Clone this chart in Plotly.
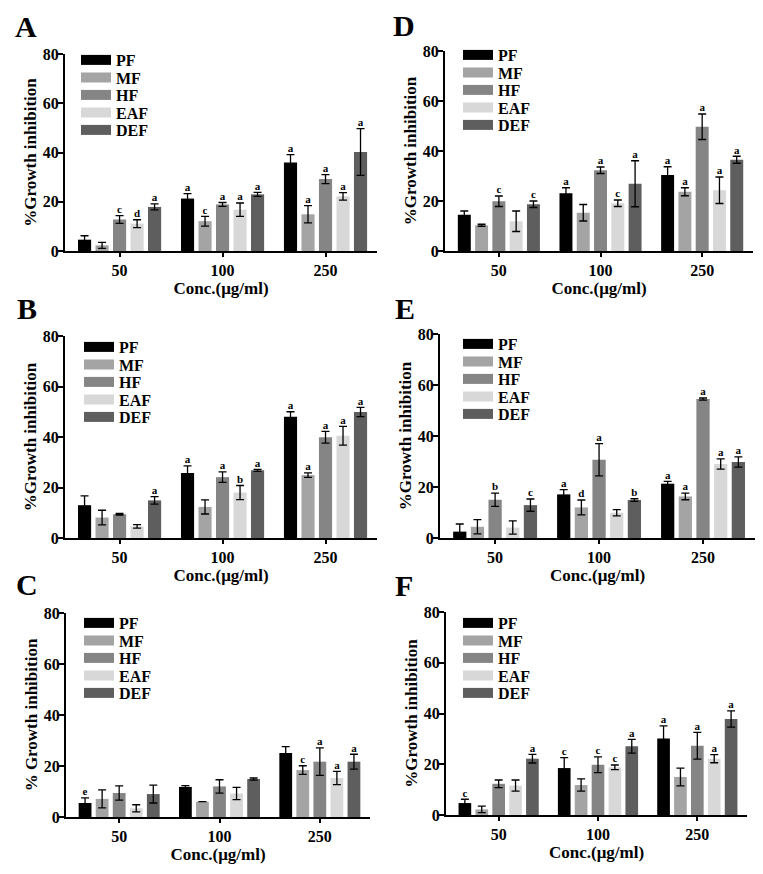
import plotly.graph_objects as go

# ---------------- data ----------------
concentrations = ["50", "100", "250"]
series_names = ["PF", "MF", "HF", "EAF", "DEF"]
series_colors = ["#000000", "#a4a4a4", "#858585", "#d8d8d8", "#5e5e5e"]

# Panel A
A_PF = [4.6, 21.3, 35.9];   A_PF_err = [1.6, 2.0, 3.2];   A_PF_let = ["", "a", "a"]
A_MF = [2.3, 12.1, 14.9];   A_MF_err = [1.2, 2.0, 3.5];   A_MF_let = ["", "c", "a"]
A_HF = [12.8, 18.9, 29.2];  A_HF_err = [1.6, 0.8, 1.8];   A_HF_let = ["c", "a", "a"]
A_EAF = [11.1, 16.8, 22.2]; A_EAF_err = [1.6, 2.7, 1.5];  A_EAF_let = ["d", "a", "a"]
A_DEF = [17.9, 23.0, 40.2]; A_DEF_err = [1.2, 0.8, 9.5];  A_DEF_let = ["a", "a", "a"]

# Panel B
B_PF = [13.0, 25.7, 48.0];  B_PF_err = [3.7, 2.9, 2.0];   B_PF_let = ["", "a", "a"]
B_MF = [8.1, 12.3, 24.9];   B_MF_err = [2.9, 2.8, 0.9];   B_MF_let = ["", "", "a"]
B_HF = [9.4, 24.1, 39.9];   B_HF_err = [0.3, 2.1, 2.3];   B_HF_let = ["", "a", "a"]
B_EAF = [4.6, 18.0, 40.5];  B_EAF_err = [0.7, 2.8, 3.7];  B_EAF_let = ["", "b", "a"]
B_DEF = [14.9, 26.8, 49.9]; B_DEF_err = [1.5, 0.4, 1.8];  B_DEF_let = ["a", "a", "a"]

# Panel C
C_PF = [5.5, 11.8, 25.1];   C_PF_err = [2.0, 0.5, 2.5];   C_PF_let = ["e", "", ""]
C_MF = [7.1, 6.0, 18.4];    C_MF_err = [3.5, 0.0, 1.7];   C_MF_let = ["", "", "c"]
C_HF = [9.4, 12.0, 21.7];   C_HF_err = [2.8, 2.6, 5.4];   C_HF_let = ["", "", "a"]
C_EAF = [3.4, 9.2, 15.3];   C_EAF_err = [1.4, 2.4, 2.6];  C_EAF_let = ["", "", "a"]
C_DEF = [9.0, 14.9, 21.7];  C_DEF_err = [3.5, 0.4, 2.9];  C_DEF_let = ["", "", "a"]

# Panel D
D_PF = [14.5, 23.1, 30.4];  D_PF_err = [1.5, 2.2, 3.3];   D_PF_let = ["", "a", "a"]
D_MF = [10.3, 15.3, 23.7];  D_MF_err = [0.4, 3.3, 1.6];   D_MF_let = ["", "", "a"]
D_HF = [19.9, 32.3, 49.7];  D_HF_err = [2.1, 1.3, 5.1];   D_HF_let = ["c", "a", "a"]
D_EAF = [11.9, 19.1, 24.3]; D_EAF_err = [4.1, 1.3, 5.3];  D_EAF_let = ["", "c", "a"]
D_DEF = [18.7, 26.9, 36.5]; D_DEF_err = [1.3, 9.2, 1.4];  D_DEF_let = ["c", "a", "a"]

# Panel E
E_PF = [2.5, 17.1, 21.3];   E_PF_err = [3.0, 1.9, 0.9];   E_PF_let = ["", "a", "a"]
E_MF = [4.4, 12.0, 16.3];   E_MF_err = [2.8, 2.9, 1.3];   E_MF_let = ["", "d", "a"]
E_HF = [15.0, 30.7, 54.5];  E_HF_err = [2.6, 6.3, 0.4];   E_HF_let = ["b", "a", "a"]
E_EAF = [4.1, 9.9, 29.0];   E_EAF_err = [2.6, 1.2, 2.0];  E_EAF_let = ["", "", "a"]
E_DEF = [12.9, 14.9, 29.8]; E_DEF_err = [2.4, 0.5, 2.0];  E_DEF_let = ["c", "b", "a"]

# Panel F
F_PF = [4.7, 18.5, 30.1];   F_PF_err = [1.5, 4.1, 5.0];   F_PF_let = ["c", "c", "a"]
F_MF = [2.2, 11.8, 15.0];   F_MF_err = [1.3, 2.4, 3.5];   F_MF_let = ["", "", ""]
F_HF = [12.3, 19.8, 27.3];  F_HF_err = [1.5, 3.1, 5.3];   F_HF_let = ["", "c", "a"]
F_EAF = [11.6, 18.8, 22.2]; F_EAF_err = [2.2, 0.9, 1.6];  F_EAF_let = ["", "c", "a"]
F_DEF = [22.2, 27.1, 37.8]; F_DEF_err = [1.7, 2.7, 3.2];  F_DEF_let = ["a", "a", "a"]

y_ticks = [0, 20, 40, 60, 80]
x_title = "Conc.(\u03bcg/ml)"

panels = [
    dict(name="A", ytitle="%Growth inhibition",
         vals=[A_PF, A_MF, A_HF, A_EAF, A_DEF],
         errs=[A_PF_err, A_MF_err, A_HF_err, A_EAF_err, A_DEF_err],
         lets=[A_PF_let, A_MF_let, A_HF_let, A_EAF_let, A_DEF_let]),
    dict(name="B", ytitle="%Growth inhibition",
         vals=[B_PF, B_MF, B_HF, B_EAF, B_DEF],
         errs=[B_PF_err, B_MF_err, B_HF_err, B_EAF_err, B_DEF_err],
         lets=[B_PF_let, B_MF_let, B_HF_let, B_EAF_let, B_DEF_let]),
    dict(name="C", ytitle="% Growth inhibition",
         vals=[C_PF, C_MF, C_HF, C_EAF, C_DEF],
         errs=[C_PF_err, C_MF_err, C_HF_err, C_EAF_err, C_DEF_err],
         lets=[C_PF_let, C_MF_let, C_HF_let, C_EAF_let, C_DEF_let]),
    dict(name="D", ytitle="%Growth inhibition",
         vals=[D_PF, D_MF, D_HF, D_EAF, D_DEF],
         errs=[D_PF_err, D_MF_err, D_HF_err, D_EAF_err, D_DEF_err],
         lets=[D_PF_let, D_MF_let, D_HF_let, D_EAF_let, D_DEF_let]),
    dict(name="E", ytitle="%Growth inhibition",
         vals=[E_PF, E_MF, E_HF, E_EAF, E_DEF],
         errs=[E_PF_err, E_MF_err, E_HF_err, E_EAF_err, E_DEF_err],
         lets=[E_PF_let, E_MF_let, E_HF_let, E_EAF_let, E_DEF_let]),
    dict(name="F", ytitle="%Growth inhibition",
         vals=[F_PF, F_MF, F_HF, F_EAF, F_DEF],
         errs=[F_PF_err, F_MF_err, F_HF_err, F_EAF_err, F_DEF_err],
         lets=[F_PF_let, F_MF_let, F_HF_let, F_EAF_let, F_DEF_let]),
]

# ---------------- layout geometry (screen pixels) ----------------
PAGE_W, PAGE_H = 763, 874
BODY = 8                      # default body margin of the html page
W, H = PAGE_W - BODY, PAGE_H - BODY


def px(xp):
    return (xp - BODY) / W


def py(yp):
    return 1 - (yp - BODY) / H


# x0, x1, ytop, ybottom of each plot area (screen px)
boxes = {
    "A": (65, 377, 54, 251),
    "B": (65, 377, 336, 538),
    "C": (66, 370, 613, 817),
    "D": (445, 753, 51, 251),
    "E": (440, 755, 334, 538),
    "F": (446, 747, 612, 815),
}
letter_pos = {"A": (26, 27), "B": (27, 308), "C": (27, 584),
              "D": (404, 25), "E": (405, 309), "F": (404, 585)}
# left of legend swatch, centre y of first legend row
legend_pos = {"A": (81, 60), "B": (84, 347), "C": (84, 623),
              "D": (463, 55), "E": (463, 344), "F": (463, 623)}
LEG_STEP = 17.5

FONT = "Liberation Serif"
BARGAP = 0.15
BARGROUPGAP = 0.25
XR = [-0.53, 2.5]

fig = go.Figure()
layout = dict(
    width=W, height=H, margin=dict(l=0, r=0, t=0, b=0, autoexpand=False),
    paper_bgcolor="white", plot_bgcolor="white",
    barmode="group", bargap=BARGAP, bargroupgap=BARGROUPGAP,
    font=dict(family=FONT, color="black", weight="bold"),
    annotations=[],
)

slot = (1 - BARGAP) / len(series_names)
xpos = list(range(len(concentrations)))

for k, p in enumerate(panels):
    n = "" if k == 0 else str(k + 1)
    xa, ya = "x" + n, "y" + n
    x0, x1, yt, yb = boxes[p["name"]]
    lx, ly = legend_pos[p["name"]]
    for i, sname in enumerate(series_names):
        li = k * len(series_names) + i + 1
        leg = "legend" if li == 1 else "legend" + str(li)
        fig.add_trace(go.Bar(
            x=xpos, y=p["vals"][i], name=sname, xaxis=xa, yaxis=ya,
            offsetgroup=str(i), marker=dict(color=series_colors[i], line=dict(width=0)),
            error_y=dict(type="data", array=p["errs"][i], visible=True,
                         color="black", thickness=1.3, width=4),
            showlegend=False,
        ))
        # legend proxy (rectangular swatch)
        fig.add_trace(go.Scatter(
            x=[None], y=[None], mode="lines", name=sname, xaxis=xa, yaxis=ya,
            line=dict(color=series_colors[i], width=10), legend=leg, showlegend=True,
        ))
        layout[leg] = dict(
            x=px(lx - 5), y=py(ly + i * LEG_STEP), xanchor="left", yanchor="middle",
            xref="paper", yref="paper", bgcolor="rgba(0,0,0,0)", borderwidth=0,
            itemclick=False, itemdoubleclick=False,
            font=dict(family=FONT, size=16, color="black", weight="bold"),
        )
        # significance letters
        tx = [g + (i - 2) * slot for g in xpos]
        ty = [v + e for v, e in zip(p["vals"][i], p["errs"][i])]
        fig.add_trace(go.Scatter(
            x=tx, y=ty, mode="text", text=p["lets"][i], textposition="top center",
            textfont=dict(family=FONT, size=11, color="black", weight="bold"),
            xaxis=xa, yaxis=ya, showlegend=False, hoverinfo="skip",
        ))
    layout["xaxis" + n] = dict(
        domain=[px(x0), px(x1)], anchor=ya, range=XR, tickvals=xpos, ticktext=concentrations,
        showline=True, linecolor="black", linewidth=2, ticks="outside", ticklen=4,
        tickwidth=2, tickcolor="black", showgrid=False, zeroline=False,
        tickfont=dict(family=FONT, size=16, color="black", weight="bold"),
        title=dict(text=x_title, standoff=2,
                   font=dict(family=FONT, size=17, color="black", weight="bold")),
        fixedrange=True,
    )
    layout["yaxis" + n] = dict(
        domain=[py(yb), py(yt)], anchor=xa, range=[0, 80], tickvals=y_ticks,
        showline=True, linecolor="black", linewidth=2, ticks="outside", ticklen=5,
        tickwidth=2, tickcolor="black", showgrid=False, zeroline=False,
        ticklabelstandoff=-4,
        tickfont=dict(family=FONT, size=16, color="black", weight="bold"),
        title=dict(text=p["ytitle"], standoff=2,
                   font=dict(family=FONT, size=17, color="black", weight="bold")),
        fixedrange=True,
    )
    cx, cy = letter_pos[p["name"]]
    layout["annotations"].append(dict(
        text=p["name"], x=px(cx), y=py(cy), xref="paper", yref="paper",
        xanchor="center", yanchor="middle", showarrow=False,
        font=dict(family=FONT, size=30, color="black", weight="bold"),
    ))

fig.update_layout(**layout)
fig.write_html("out.html")
